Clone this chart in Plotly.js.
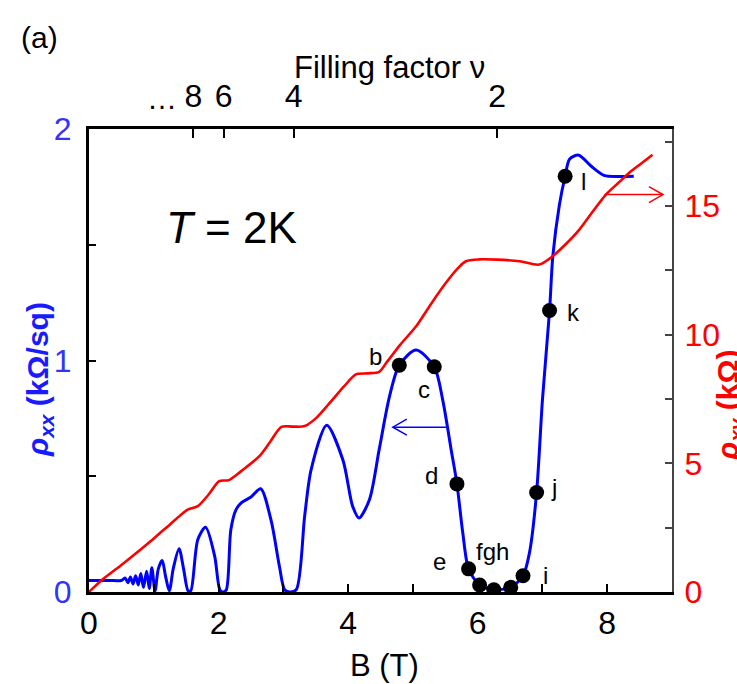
<!DOCTYPE html>
<html>
<head>
<meta charset="utf-8">
<script src="https://cdn.plot.ly/plotly-3.0.1.min.js"></script>
<style>html,body{margin:0;padding:0;background:#fff;}#chart{width:737px;height:684px;}</style>
</head>
<body>
<div id="chart"></div>
<script>
// ---- data ----
const B_xx = [0.00,0.30,0.50,0.56,0.60,0.64,0.68,0.72,0.76,0.80,0.84,0.89,0.93,0.97,1.02,1.07,1.13,1.18,1.24,1.30,1.39,1.46,1.53,1.57,1.68,1.80,1.94,2.02,2.07,2.12,2.19,2.27,2.35,2.50,2.65,2.81,2.94,3.02,3.10,3.20,3.33,3.43,3.67,3.92,4.07,4.17,4.33,4.48,4.64,4.79,5.05,5.33,5.46,5.59,5.68,5.77,5.86,6.03,6.25,6.51,6.70,6.80,6.91,7.00,7.11,7.16,7.26,7.35,7.42,7.56,7.75,7.95,8.19,8.41];
const rho_xx = [0.05,0.05,0.05,0.06,0.04,0.065,0.035,0.07,0.03,0.08,0.02,0.09,0.015,0.105,0.005,0.10,0.136,0.07,0.005,0.10,0.187,0.10,0.005,0.005,0.227,0.28,0.155,0.01,0.0,0.01,0.27,0.356,0.385,0.41,0.446,0.31,0.11,0.01,0.0,0.01,0.33,0.53,0.72,0.57,0.37,0.32,0.40,0.616,0.846,0.98,1.045,0.973,0.83,0.616,0.467,0.256,0.10,0.03,0.01,0.02,0.07,0.17,0.43,0.83,1.216,1.45,1.67,1.796,1.87,1.887,1.84,1.80,1.795,1.796];

const B_xy = [0.00,0.19,0.50,1.01,1.10,1.22,1.35,1.53,1.68,1.85,2.01,2.16,2.35,2.63,2.80,2.97,3.15,3.33,3.51,3.70,3.94,4.12,4.30,4.48,4.59,4.80,5.05,5.28,5.51,5.70,5.82,6.03,6.30,6.65,6.95,7.16,7.35,7.57,7.78,7.98,8.17,8.34,8.52,8.70];
const rho_xy = [0.00,0.45,1.05,2.10,2.30,2.56,2.85,3.21,3.34,3.80,4.31,4.35,4.70,5.28,5.85,6.42,6.43,6.45,6.77,7.30,8.00,8.46,8.50,8.56,8.91,9.60,10.33,11.20,12.02,12.60,12.86,12.93,12.92,12.86,12.73,13.06,13.50,14.09,14.80,15.45,15.90,16.30,16.65,17.00];

const ptNames = ['b','c','d','e','f','g','h','i','j','k','l'];
const ptB     = [4.79,5.33,5.68,5.86,6.03,6.25,6.51,6.70,6.91,7.11,7.35];
const ptRho   = [0.98,0.973,0.467,0.10,0.03,0.01,0.02,0.07,0.43,1.216,1.796];

const bTickVals = [0,1,2,3,4,5,6,7,8,9];
const bTickText = ['0','','2','','4','','6','','8',''];
const nuTickVals = [1.61,2.08,3.16,6.30];
const nuTickText = ['8','6','4','2'];
const xxTickVals = [0,0.5,1,1.5,2];
const xxTickText = ['0','','1','','2'];
const xyTickVals = [0,2.5,5,7.5,10,12.5,15,17.5];
const xyTickText = ['0','','5','','10','','15',''];

// ---- styling ----
const FONT = 'Liberation Sans, Arial, sans-serif';
const BLUE = '#0000ff', RED = '#ff0000';
const TS = 32;

const traces = [
  {x: B_xy, y: rho_xy, xaxis:'x', yaxis:'y2', mode:'lines', line:{color:RED, width:2.6, shape:'spline', smoothing:0.8}, hoverinfo:'skip'},
  {x: B_xx, y: rho_xx, xaxis:'x', yaxis:'y', mode:'lines', line:{color:BLUE, width:3, shape:'spline', smoothing:0.8}, hoverinfo:'skip'},
  {x: ptB, y: ptRho, xaxis:'x', yaxis:'y', mode:'markers', marker:{color:'#000', size:15}, hoverinfo:'skip'},
  {x: [null], y: [null], xaxis:'x2', yaxis:'y', mode:'markers', showlegend:false, hoverinfo:'skip'}
];

// label offsets (px) relative to each marker
const LS = 24;
const off = {b:[-24,9], c:[-10,-23], d:[-25,8], e:[-29,7], i:[22,0], j:[17,5], k:[24,-2], l:[18,-5]};
const annotations = [];
ptNames.forEach((n,i)=>{
  if (off[n]) annotations.push({x:ptB[i], y:ptRho[i], xref:'x', yref:'y', text:n, showarrow:false, xanchor:'center', yanchor:'middle',
    xshift:off[n][0], yshift:off[n][1], font:{family:FONT, size:LS, color:'#000'}});
});
const gi = ptNames.indexOf('g');
annotations.push({x:ptB[gi], y:ptRho[gi], xref:'x', yref:'y', text:'fgh', showarrow:false, xanchor:'center', yanchor:'middle', xshift:-1, yshift:38, font:{family:FONT, size:LS, color:'#000'}});

const W = 583, H = 463, L = 89.5, T = 129.5;
const px = v => (v - L) / W;     // paper x from pixel
const py = v => (T + H - v) / H; // paper y from pixel
const ann = (x, y, text, size, color, extra) => Object.assign({xref:'paper', yref:'paper', x:px(x), y:py(y), text:text, showarrow:false,
  xanchor:'center', yanchor:'middle', font:{family:FONT, size:size, color:color}}, extra || {});
annotations.push(
  ann(40, 38, '(a)', 30, '#000'),
  ann(390, 68, 'Filling factor ν', 31, '#000'),
  ann(385, 666, 'B (T)', 31, '#000'),
  ann(232, 228, '<i>T</i> = 2K', 44, '#000'),
  ann(40, 380, '<b><i>ρ</i><sub><i>xx</i></sub> (kΩ/sq)</b>', 30, '#1a1aff', {textangle:-90}),
  ann(730, 406, '<b><i>ρ</i><sub><i>xy</i></sub> (kΩ)</b>', 30, RED, {textangle:-90}),
  {x:nuTickVals[0], y:1, xref:'x', yref:'paper', xanchor:'center', yanchor:'bottom', yshift:12, xshift:-31, text:'…', showarrow:false, font:{family:FONT, size:30, color:'#000'}}
);

// arrows (open chevron heads)
const bluY = 0.712, bluX0 = 5.51, bluX1 = 4.69;
const redY = 15.45, redX0 = 7.96, redX1 = 8.86;
const kx = 9 / W, ky1 = 2 / H, ky2 = 18 / H;
const shapes = [
  {type:'line', xref:'x', yref:'y', x0:bluX0, x1:bluX1, y0:bluY, y1:bluY, line:{color:BLUE, width:1.5}},
  {type:'path', xref:'x', yref:'y', path:`M${bluX1+14*kx},${bluY+8*ky1} L${bluX1},${bluY} L${bluX1+14*kx},${bluY-8*ky1}`, line:{color:BLUE, width:1.5}},
  {type:'line', xref:'x', yref:'y2', x0:redX0, x1:redX1, y0:redY, y1:redY, line:{color:RED, width:1.5}},
  {type:'path', xref:'x', yref:'y2', path:`M${redX1-14*kx},${redY+8*ky2} L${redX1},${redY} L${redX1-14*kx},${redY-8*ky2}`, line:{color:RED, width:1.5}}
];

const layout = {
  width:737, height:684,
  margin:{l:89, r:65, t:129, b:92, pad:0},
  paper_bgcolor:'#fff', plot_bgcolor:'#fff',
  showlegend:false,
  font:{family:FONT, size:TS, color:'#000'},
  xaxis:{range:[0,9], tickvals:bTickVals, ticktext:bTickText, ticks:'inside', ticklen:8, tickwidth:2, tickcolor:'#000',
    showline:true, linecolor:'#000', linewidth:3, showgrid:false, zeroline:false, ticklabelstandoff:1,
    tickfont:{family:FONT, size:TS, color:'#000'}},
  xaxis2:{range:[0,9], overlaying:'x', side:'top', anchor:'y', tickvals:nuTickVals, ticktext:nuTickText, ticks:'inside', ticklen:9, tickwidth:2, tickcolor:'#000',
    showline:true, linecolor:'#000', linewidth:3, showgrid:false, zeroline:false, ticklabelstandoff:6,
    tickfont:{family:FONT, size:TS, color:'#000'}},
  yaxis:{range:[0,2], tickvals:xxTickVals, ticktext:xxTickText, ticks:'inside', ticklen:7, tickwidth:2, tickcolor:'#000',
    showline:true, linecolor:'#000', linewidth:3, showgrid:false, zeroline:false, ticklabelstandoff:8,
    tickfont:{family:FONT, size:TS, color:'#3333ff'}},
  yaxis2:{range:[0,18], overlaying:'y', side:'right', anchor:'x', tickvals:xyTickVals, ticktext:xyTickText, ticks:'inside', ticklen:7, tickwidth:2, tickcolor:'#444',
    showline:true, linecolor:'#444', linewidth:2, showgrid:false, zeroline:false, ticklabelstandoff:4,
    tickfont:{family:FONT, size:TS, color:RED}},
  annotations: annotations,
  shapes: shapes
};

Plotly.newPlot('chart', traces, layout, {staticPlot:true, displayModeBar:false});
</script>
</body>
</html>
